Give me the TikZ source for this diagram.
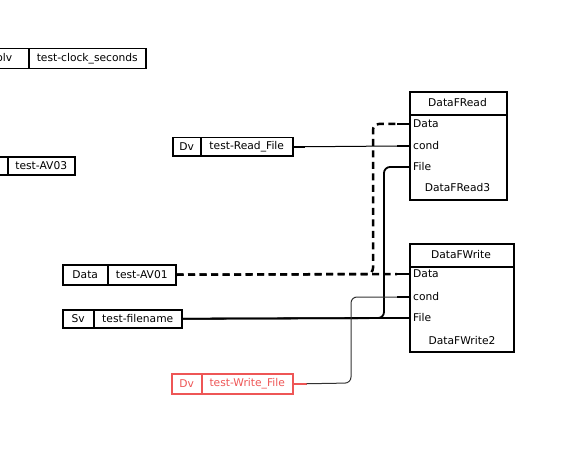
\documentclass[tikz,border=0pt]{standalone}
\usepackage{fontspec}
\setmainfont{DejaVu Sans}
\definecolor{wred}{RGB}{238,86,86}
\definecolor{wgray}{RGB}{50,50,50}
\begin{document}
\begin{tikzpicture}[x=1pt,y=-1pt,
  cell/.style={draw,line width=1.5pt,inner sep=0pt,anchor=north west,font=\fontsize{10.7}{12}\selectfont},
  redcell/.style={cell,draw=wred,text=wred},
  blk/.style={draw,line width=1.6pt,anchor=north west,inner sep=0pt},
  lbl/.style={font=\fontsize{10.7}{12}\selectfont,inner sep=0pt},
  port/.style={lbl,anchor=west},
  stub/.style={line width=1.8pt},
  thickc/.style={line width=1.8pt,rounded corners=6pt},
  dashc/.style={line width=2.5pt,dash pattern=on 7pt off 4.5pt,rounded corners=6pt},
  thinc/.style={line width=1pt,rounded corners=6pt}]
\useasboundingbox (0,0) rectangle (585,465);
% clock
\node[cell,minimum width=40pt,minimum height=20pt] (clkL) at (-12,48) {};
\node[cell,minimum width=117pt,minimum height=20pt] (clkR) at (28,48) {test-clock\_seconds};
\node[lbl,anchor=east] (clkT) at (12.5,58) {olv};
% AV03
\node[cell,minimum width=30pt,minimum height=18pt] (av3L) at (-23,156) {};
\node[cell,minimum width=67pt,minimum height=18pt] (av3R) at (7,156) {test-AV03};
% Read_File
\node[cell,minimum width=28pt,minimum height=18pt] (rfL) at (172,137) {Dv};
\node[cell,minimum width=92pt,minimum height=18pt] (rf) at (200,137) {test-Read\_File};
% AV01
\node[cell,minimum width=45pt,minimum height=20pt] (avL) at (62,264) {Data};
\node[cell,minimum width=68pt,minimum height=20pt] (av) at (107,264) {test-AV01};
% filename
\node[cell,minimum width=31pt,minimum height=18pt] (fnL) at (62,309) {Sv};
\node[cell,minimum width=88pt,minimum height=18pt] (fn) at (93,309) {test-filename};
% Write_File
\node[redcell,minimum width=30pt,minimum height=20pt] (wfL) at (171,373) {Dv};
\node[redcell,minimum width=91pt,minimum height=20pt] (wf) at (201,373) {test-Write\_File};
% DataFRead block
\node[blk,minimum width=97pt,minimum height=23pt] (rdH) at (409,91) {};
\node[blk,minimum width=97pt,minimum height=85pt] (rdB) at (409,114) {};
\node[lbl] (rdT) at (457.5,102.5) {DataFRead};
\node[lbl] (rdN) at (457.5,188) {DataFRead3};
\coordinate (rdData) at (409,124);
\coordinate (rdCond) at (409,146);
\coordinate (rdFile) at (409,167);
\node[port] (rdDataL) at (413,124) {Data};
\node[port] (rdCondL) at (413,146) {cond};
\node[port] (rdFileL) at (413,167) {File};
% DataFWrite block
\node[blk,minimum width=104pt,minimum height=23pt] (wrH) at (409,243) {};
\node[blk,minimum width=104pt,minimum height=85pt] (wrB) at (409,266) {};
\node[lbl] (wrT) at (461,254.5) {DataFWrite};
\node[lbl] (wrN) at (462,341) {DataFWrite2};
\coordinate (wrData) at (409,274);
\coordinate (wrCond) at (409,297);
\coordinate (wrFile) at (409,318);
\node[port] (wrDataL) at (413,274) {Data};
\node[port] (wrCondL) at (413,297) {cond};
\node[port] (wrFileL) at (413,318) {File};
% port stubs
\foreach \p in {rdData,rdCond,rdFile,wrData,wrCond,wrFile}
  \draw[stub] (\p) -- ++(-12,0) coordinate (\p S);
% connectors
\draw[dashc] (av.east) -- (wrDataS);
\draw[dashc] (av.east) -- (373,274) -- (373,124) -- (rdDataS);
\draw[thickc] (fn.east) -- (wrFileS);
\draw[thickc] (fn.east) -- (384,318) -- (384,167) -- (rdFileS);
\draw[stub] (rf.east) -- ++(11,0) coordinate (rfS);
\draw[thinc] (rfS) -- (rdCondS);
\draw[stub,wred] (wf.east) -- ++(13,0) coordinate (wfS);
\draw[thinc,wgray] (wfS) -- (351,383) -- (351,297) -- (wrCondS);
\end{tikzpicture}
\end{document}
